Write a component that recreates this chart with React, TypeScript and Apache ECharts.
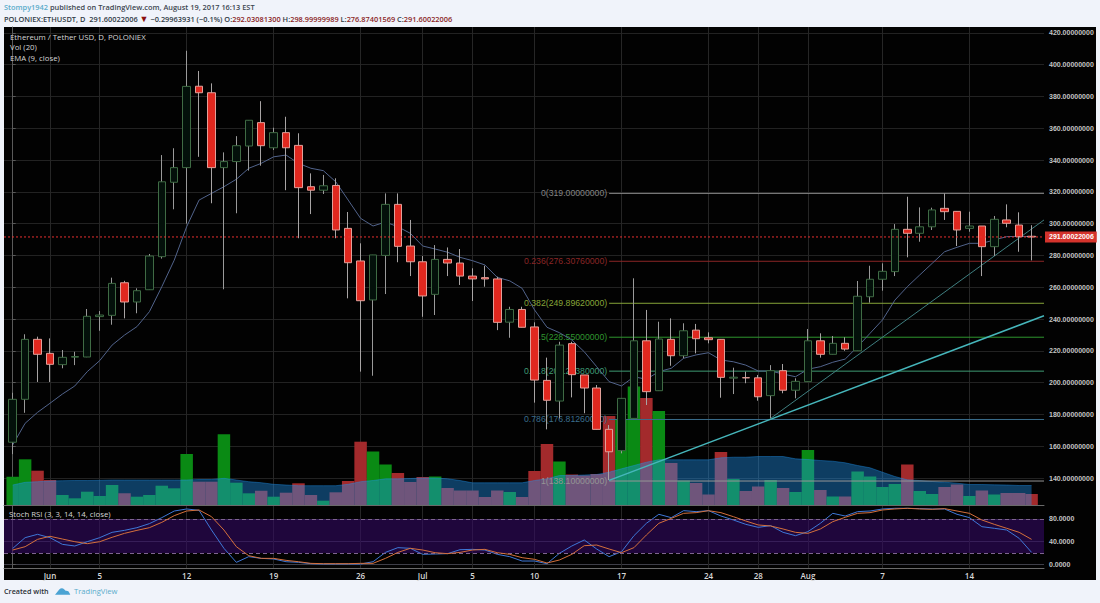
import React, { useEffect, useRef } from "react";
import * as echarts from "echarts";

const FONT = "'Open Sans', 'Noto Sans', sans-serif";
const AXISFONT = "'Liberation Sans', Arial, sans-serif";

const opens = [162.5,189.5,227.2,218.4,211.3,216,216.1,241.5,242.3,262.8,
250.7,258.4,279.2,326,335.2,386.4,382.3,335.2,339,348.8,
363.5,347.7,357.2,349.2,323.2,321,324,297,276.5,252,
280,312.1,285.9,276,255.5,277.5,275.2,267,266,265.2,
238,246,235,201.4,188.4,224.5,204.8,196.6,170.6,157.2,
177.5,226.3,194.9,227.2,216.9,233,228.2,227.2,202.8,203.1,
203,191.8,207.5,195.2,200.6,226.3,217.8,224.7,220,254,
265,269.8,296.4,293.9,298,309.6,307.7,297,298.5,285.5,
302.3,299.1,292.03];
const closes = [189.5,227.2,217.8,211.5,215.9,216.4,241.7,242.5,262.4,250.7,
257.8,279.6,326.3,335.2,386.3,382.3,335.2,339,349,365,
349,357.2,347.7,322.6,321,323.8,296,275.4,251.5,280.3,
312.1,285.7,276,254.5,277.5,275.2,267,265.2,265.2,237.9,
246,234.8,201.6,188.9,223.6,205,196.6,170.6,156.5,190.1,
226.3,194.3,227.4,216.9,232.6,227.6,227,203.3,203.4,203,
191.1,207.5,195.2,200.8,226.3,217.8,224.7,221.1,254.3,265,
270,296.4,293.9,298,308.6,307.5,296,298.5,285.5,302.7,
300.2,291.8,291.6];
const highs = [193.6,230.4,228.9,227.8,220.5,219.4,246.3,245,266,264,
259.3,280.9,343.1,347.4,408.7,396,388.2,344.8,355,365,
377,360.3,367.2,356.8,331.6,330.6,328.5,307.3,287.6,280.3,
319,319,302.3,279.6,286.5,285,284,271.9,273.5,266.6,
247.7,247.7,237.9,215.7,225.7,225.7,204.8,198.5,173.3,190.1,
265.6,245.7,238.3,240.4,237.3,236.9,231.6,227.2,209.4,206.9,
204.8,211,211.7,202.7,233.7,231,229.3,228.5,263.9,273.5,
275,299.7,316.9,310.2,310,319,307.7,307.5,298.5,304.8,
312.1,307.1,299];
const lows = [155,181,200.4,200.4,209,211,216,232.6,236.4,240.4,
243.6,258.4,278,309,300,342,312.8,258.7,306.5,333.3,
336.4,346.3,321,290.8,306,318.6,290.8,253,206.9,204.3,
255.7,275.7,267,241.4,242.5,267,261.4,251.3,260.3,233,
228.2,234.8,187.4,170.6,177.5,190.7,180.7,170.6,138.7,155.5,
177.5,185.9,194.9,210.6,215.3,218.4,224.7,190.5,192.8,199.6,
188.6,177.5,193.3,190.1,200.6,215.7,217.8,220,220,250.3,
257.8,267,278.8,288.6,296,302.3,285.9,294.9,267,279.6,
297.7,282.3,276.87];
const ema = [160.8,174.4,181.3,187,192.8,197.9,206.9,213.8,223.6,229.9,
235.2,244.6,260.3,277,298,314.8,319,323.2,327.9,334.8,
337.9,342,343.1,337.9,334.8,333.3,326.3,314.8,303.3,298.5,
301,298,293.9,285.9,284,282,278.8,276.7,274,266.2,
264,259.3,245.7,234.8,231.4,226.8,219.4,210,200.6,197.9,
203.7,202.1,206.9,209,215.3,217.4,218.8,214.2,213.1,211,
207.3,207.3,205.4,203.7,208.4,210,212.8,214.8,222.6,231,
239.4,251.9,260.3,267.7,275,282.3,285.1,287.6,287.6,289.7,
291.8,292,291.8];
const volume = [28.3,45.7,34.3,25,10,6.7,13.3,9,20,11.7,
8.3,10,19.3,16.7,51,23.3,23.3,70.7,22.3,11.7,
14.3,8.3,12.3,21.7,10,4.3,12.7,24,63.3,53.5,
40.5,32,23,28,28.5,17,14.5,14.5,8,14.5,
13,8,34,61,43.5,30.5,29.5,31,89,85.5,
118.5,107,94,42,24.5,22,10.5,53,26,14,
18.5,25,17,13,55,15,8.5,8.5,33.5,28.5,
18,21,40.5,14,11,18,20.5,9,14.5,10.5,
12,12,11];
const volumeMA = [20,22.7,23.3,24,24.3,24.5,24.5,24.7,25,25,
25,25,25,25,25,25.5,25.5,26.7,25,23.3,
22.3,20.7,20,19.3,19.3,19.3,19.3,20.7,23.3,24.5,
26.2,26.2,26.5,27,27,26.2,24.5,22.2,22.2,22.2,
22.2,22.2,24.5,26.2,29.5,29.5,30,30.5,32.8,36.2,
39.5,42.8,45.2,45.2,45.2,45.2,45.2,47.2,47.8,47.8,
48.5,48.5,48.5,46.2,45.5,44.5,43.8,42.2,39.5,37.2,
32.8,28.5,25.2,24.5,23.5,22.8,21.8,20.5,20.5,20.2,
20,19.5,19.5];
const stochK = [28,47,52.9,47,35.2,32.3,39.9,47,56.4,59.9,
64.6,71.7,82.3,94,97.6,95.2,60.5,28.2,3.5,13.5,
10.5,9.4,4.6,3.5,1.1,0.5,0.5,0.5,0.5,4.6,
21,29.4,28.2,17.6,18.2,18.8,25.8,26.4,25.2,17.6,
13.5,5.8,5.8,1.1,19.4,32.3,42.9,27,13.5,22.3,
50.5,72.3,88.2,82.3,94.6,92.9,94.6,85.2,78.2,70.5,
65.2,68.2,56.4,50.5,57.6,72.3,89.9,85.2,92.9,94,
97.6,98.8,98.8,98.2,97.6,97.6,88.2,82.3,66.4,63.5,
60.5,45.8,21.1];
const stochD = [25.2,31.1,44,49.4,44.6,39.9,36.4,39.9,47.6,54.6,
59.9,64.6,74,85.8,94,95.8,84,60.5,31.1,15.2,
10.5,10.5,7,4.6,1.7,1.1,1.1,1.1,1.7,1.7,
10.5,21,28.2,25.2,20.5,18.8,21,25.2,26.4,20.5,
17.6,11.7,8.8,2.3,7.6,17.6,32.9,34,27,20.5,
29.4,51.7,72.3,81,89.9,91.1,94.6,91.1,84,76.4,
69.4,67.6,62.3,56.4,54.6,62.3,75.2,82.9,89.9,91.1,
95.8,97.6,98.8,97.6,97,98.2,94,89.9,78.2,70.5,
63.5,56.4,44];

// x-axis ticks: index of the day in the series, and its label
const tickIndex = [3, 7, 14, 21, 28, 33, 37, 42, 49, 56, 60, 64, 70, 77];
const tickLabels = ["Jun", "5", "12", "19", "26", "Jul", "5", "10", "17", "24", "28", "Aug", "7", "14"];
const priceTicks = [140,160,180,200,220,240,260,280,300,320,340,360,380,400,420];
const stochTicks = [0, 40, 80];

const lastPrice = 291.60022006;
const fibStart = 48;
const fibLevels = [
  { label: "0(319.00000000)", value: 319, color: "#858585" },
  { label: "0.236(276.30760000)", value: 276.3076, color: "#8a2626" },
  { label: "0.382(249.89620000)", value: 249.8962, color: "#86a538" },
  { label: "0.5(228.55000000)", value: 228.55, color: "#2f962f" },
  { label: "0.618(207.20380000)", value: 207.2038, color: "#3f9a74" },
  { label: "0.786(176.81260000)", value: 176.8126, color: "#3a6d8c" },
  { label: "1(138.10000000)", value: 138.1, color: "#959595" },
];
const trendThick = [[48, 138.5], [83, 242]];
const trendThin = [[61, 177.5], [83, 302.3]];

const publisher = "Stompy1942";
const publishedText = " published on TradingView.com, August 19, 2017 16:13 EST";
const symbolText = "POLONIEX:ETHUSDT, D  291.60022006 ";
const changeText = " \u22120.29963931 (\u22120.1%) ";
const ohlc = [["O:", "292.03081300"], ["H:", "298.99999989"], ["L:", "276.87401569"], ["C:", "291.60022006"]];

const X_MIN = -0.7;
const X_MAX = 83;
const PRICE_MIN = 123.02;
const PRICE_MAX = 423.65;
const VOL_MAX = 478;
const STOCH_MIN = -6.5;
const STOCH_MAX = 104.6;

const GREEN = "#0a8a14";
const RED = "#a32a2c";

function xAxis(gridIndex: number, showLabels: boolean) {
  return {
    type: "value",
    gridIndex,
    min: X_MIN,
    max: X_MAX,
    axisLine: { show: true, onZero: false, lineStyle: { color: "#6a6a6a", width: 1 } },
    axisTick: { show: false, customValues: tickIndex },
    splitLine: { show: true, lineStyle: { color: "#262626", width: 1 } },
    axisLabel: {
      show: showLabels,
      customValues: tickIndex,
      hideOverlap: false,
      margin: 3,
      color: "#d8d8d8",
      fontFamily: FONT,
      fontSize: 8,
      fontWeight: 600,
      formatter: (v: number) => tickLabels[tickIndex.indexOf(v)] ?? "",
    },
  };
}

function App() {
  const ref = useRef<HTMLDivElement>(null);
  useEffect(() => {
    document.body.style.margin = "0";
    document.body.style.background = "#f0f3fa";
    echarts.graphic.registerShape(
      "tvlogo",
      echarts.graphic.extendPath("M0 9 L5 3 Q8 0 11 3 L12.5 4.5 Q16 4 17 7 L18 9 Z", {})
    );
    const chart = echarts.init(ref.current!, undefined, { renderer: "svg" });

    const wickData = opens.map((o, i) => [i, o, closes[i], lows[i], highs[i]]);
    const bodyData = opens.map((o, i) => {
      const c = closes[i];
      return [i, o, c, Math.min(o, c), Math.max(o, c)];
    });
    const volData = volume.map((v, i) => ({
      value: [i, v],
      itemStyle: { color: closes[i] >= opens[i] ? GREEN : RED },
    }));

    const headerBase = { fontFamily: FONT, fontSize: 7.4, fontWeight: 600 };
    const richHeader: any = {
      sym: { ...headerBase, color: "#2f3a45" },
      val: { ...headerBase, color: "#8b1f1f" },
      arr: { ...headerBase, color: "#8b1010", fontSize: 9 },
    };
    const ohlcText = ohlc.map(([k, v]) => `{sym|${k}}{val|${v}}{sym| }`).join("");

    const legendTitle = (text: string, left: number, top: number) => ({
      text,
      left,
      top,
      padding: 0,
      textStyle: { color: "#d6d6d6", fontFamily: FONT, fontSize: 7.8, fontWeight: 400 },
    });

    const option: any = {
      animation: false,
      backgroundColor: "#f0f3fa",
      tooltip: { show: false },
      title: [
        {
          text: `{pub|${publisher}}{txt|${publishedText}}`,
          left: 4, top: 3, padding: 0,
          textStyle: {
            rich: {
              pub: { ...headerBase, color: "#5aaccb" },
              txt: { ...headerBase, color: "#3c4650" },
            },
          },
        },
        {
          text: `{sym|${symbolText}}{arr|\u25BC}{sym|${changeText}}${ohlcText}`,
          left: 4, top: 14, padding: 0,
          textStyle: { rich: richHeader },
        },
        legendTitle("Ethereum / Tether USD, D, POLONIEX", 10, 33),
        legendTitle("Vol (20)", 10, 43),
        legendTitle("EMA (9, close)", 10, 54),
        legendTitle("Stoch RSI (3, 3, 14, 14, close)", 9, 510),
        {
          text: "Created with",
          left: 4, top: 587, padding: 0,
          textStyle: { color: "#2b3036", fontFamily: FONT, fontSize: 7.2, fontWeight: 600 },
        },
        {
          text: "TradingView",
          left: 74, top: 587, padding: 0,
          textStyle: { color: "#5aaccb", fontFamily: FONT, fontSize: 7.6, fontWeight: 400 },
        },
      ],
      graphic: [
        { type: "rect", silent: true, z: -1, shape: { x: 4, y: 27, width: 1092, height: 553 }, style: { fill: "#020202" } },
        { type: "tvlogo", silent: true, x: 55, y: 587, scaleX: 0.85, scaleY: 0.85, style: { fill: "#4ba3d3" } },
      ],
      grid: [
        { left: 4, top: 27, width: 1040, height: 478 },
        { left: 4, top: 505, width: 1040, height: 63 },
      ],
      xAxis: [xAxis(0, false), xAxis(1, true)],
      yAxis: [
        {
          type: "value",
          gridIndex: 0,
          position: "right",
          min: PRICE_MIN,
          max: PRICE_MAX,
          axisLine: { show: true, lineStyle: { color: "#5a5a5a" } },
          axisTick: { show: true, length: 3, customValues: priceTicks, lineStyle: { color: "#5a5a5a" } },
          splitLine: { show: true, lineStyle: { color: "#222222", width: 1 } },
          axisLabel: {
            customValues: priceTicks,
            margin: 5,
            color: "#c4c4c4",
            fontFamily: AXISFONT,
            fontSize: 7,
            fontWeight: "bold",
            formatter: (v: number) => v.toFixed(8),
          },
        },
        {
          type: "value",
          gridIndex: 0,
          position: "left",
          min: 0,
          max: VOL_MAX,
          axisLine: { show: false },
          axisTick: { show: false },
          axisLabel: { show: false },
          splitLine: { show: false },
        },
        {
          type: "value",
          gridIndex: 1,
          position: "right",
          min: STOCH_MIN,
          max: STOCH_MAX,
          axisLine: { show: true, lineStyle: { color: "#5a5a5a" } },
          axisTick: { show: true, length: 3, customValues: stochTicks, lineStyle: { color: "#5a5a5a" } },
          splitLine: { show: true, lineStyle: { color: "#3e3e48", width: 1 } },
          axisLabel: {
            customValues: stochTicks,
            margin: 5,
            color: "#c4c4c4",
            fontFamily: AXISFONT,
            fontSize: 7,
            fontWeight: "bold",
            formatter: (v: number) => v.toFixed(4),
          },
        },
      ],
      series: [
        {
          name: "Volume",
          type: "bar",
          xAxisIndex: 0,
          yAxisIndex: 1,
          z: 1,
          barWidth: 12.5,
          silent: true,
          data: volData,
        },
        {
          name: "Volume MA",
          type: "line",
          xAxisIndex: 0,
          yAxisIndex: 1,
          z: 2,
          showSymbol: false,
          silent: true,
          lineStyle: { color: "rgba(33,150,243,0.4)", width: 1 },
          areaStyle: { color: "rgba(33,150,243,0.4)", origin: "start", opacity: 1 },
          data: volumeMA.map((v, i) => [i, v]),
        },
        ...fibLevels.map((f) => ({
          name: f.label,
          type: "line",
          xAxisIndex: 0,
          yAxisIndex: 0,
          z: 3,
          silent: true,
          symbol: "none",
          lineStyle: { color: f.color, width: 1 },
          markPoint: {
            silent: true,
            symbol: "circle",
            symbolSize: 0,
            z: 3,
            label: {
              show: true,
              position: "left",
              distance: 2,
              formatter: f.label,
              color: f.color,
              fontFamily: AXISFONT,
              fontSize: 8.7,
            },
            data: [{ coord: [fibStart, f.value] }],
          },
          data: [[fibStart, f.value], [X_MAX, f.value]],
        })),
        {
          name: "Trend thick",
          type: "line",
          xAxisIndex: 0,
          yAxisIndex: 0,
          z: 3,
          symbol: "none",
          silent: true,
          lineStyle: { color: "#46b6bb", width: 1.5 },
          data: trendThick,
        },
        {
          name: "Trend thin",
          type: "line",
          xAxisIndex: 0,
          yAxisIndex: 0,
          z: 3,
          symbol: "none",
          silent: true,
          lineStyle: { color: "#3f7f80", width: 1 },
          data: trendThin,
        },
        {
          name: "EMA",
          type: "line",
          xAxisIndex: 0,
          yAxisIndex: 0,
          z: 4,
          symbol: "none",
          silent: true,
          lineStyle: { color: "#52648c", width: 1 },
          data: ema.map((v, i) => [i, v]),
        },
        {
          name: "ETHUSDT wicks",
          type: "candlestick",
          xAxisIndex: 0,
          yAxisIndex: 0,
          z: 5,
          barWidth: 1,
          silent: true,
          encode: { x: 0, y: [1, 2, 3, 4] },
          itemStyle: {
            color: "#9a9a9a",
            color0: "#9a9a9a",
            borderColor: "#9a9a9a",
            borderColor0: "#a8a4a4",
            borderWidth: 1,
          },
          data: wickData,
        },
        {
          name: "ETHUSDT",
          type: "candlestick",
          xAxisIndex: 0,
          yAxisIndex: 0,
          z: 6,
          barWidth: 8,
          silent: true,
          encode: { x: 0, y: [1, 2, 3, 4] },
          itemStyle: {
            color: "#03100a",
            color0: "#e0281f",
            borderColor: "#3f6b44",
            borderColor0: "#e2a09a",
            borderWidth: 1,
          },
          data: bodyData,
        },
        {
          name: "Last price",
          type: "line",
          xAxisIndex: 0,
          yAxisIndex: 0,
          z: 7,
          symbol: "none",
          silent: true,
          lineStyle: { color: "#e83030", width: 1, type: [2, 2] },
          endLabel: {
            show: true,
            distance: 1,
            formatter: lastPrice.toFixed(8),
            color: "#ffffff",
            fontFamily: AXISFONT,
            fontWeight: "bold",
            fontSize: 7,
            backgroundColor: "#d4332c",
            padding: [2, 3, 2, 4],
          },
          data: [[X_MIN, lastPrice], [X_MAX, lastPrice]],
        },
        {
          name: "Stoch K",
          type: "line",
          xAxisIndex: 1,
          yAxisIndex: 2,
          z: 4,
          symbol: "none",
          silent: true,
          lineStyle: { color: "#3f78d8", width: 1 },
          markArea: {
            silent: true,
            itemStyle: { color: "rgba(52,10,100,0.6)" },
            data: [[{ yAxis: 20 }, { yAxis: 80 }]],
          },
          markLine: {
            silent: true,
            symbol: "none",
            label: { show: false },
            lineStyle: { color: "#7f6490", type: [4, 3], width: 1 },
            data: [{ yAxis: 20 }, { yAxis: 80 }],
          },
          data: stochK.map((v, i) => [i, v]),
        },
        {
          name: "Stoch D",
          type: "line",
          xAxisIndex: 1,
          yAxisIndex: 2,
          z: 5,
          symbol: "none",
          silent: true,
          lineStyle: { color: "#d4703c", width: 1 },
          data: stochD.map((v, i) => [i, v]),
        },
      ],
    };
    chart.setOption(option);
    return () => chart.dispose();
  }, []);
  return <div ref={ref} style={{ width: 1100, height: 603 }} />;
}

export default App;
